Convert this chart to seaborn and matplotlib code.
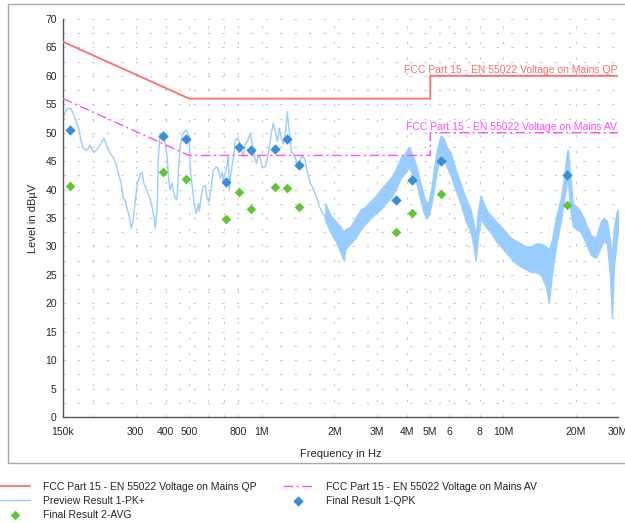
import matplotlib
matplotlib.use("Agg")
import matplotlib.pyplot as plt
import seaborn as sns
import pandas as pd
from matplotlib.patches import Rectangle

# ---------------- data (frequency in MHz, level in dBuV) ----------------
qp_freq = [0.15, 0.5, 5.0, 5.0, 30.0]
qp_level = [66, 56, 56, 60, 60]
av_freq = [0.15, 0.5, 5.0, 5.0, 30.0]
av_level = [56, 46, 46, 50, 50]

# Preview result, low-frequency (single line) part
pk_freq = [0.150, 0.154, 0.157, 0.162, 0.165, 0.170, 0.175, 0.178, 0.182, 0.187,
           0.191, 0.194, 0.198, 0.202, 0.206, 0.212, 0.217, 0.221, 0.224, 0.228,
           0.235, 0.242, 0.249, 0.254, 0.261, 0.266, 0.272, 0.277, 0.282, 0.288,
           0.293, 0.299, 0.305, 0.313, 0.319, 0.325, 0.332, 0.345, 0.351, 0.358,
           0.362, 0.369, 0.372, 0.379, 0.387, 0.398, 0.406, 0.410, 0.417, 0.425,
           0.434, 0.442, 0.446, 0.451, 0.459, 0.468, 0.477, 0.486, 0.496, 0.501,
           0.505, 0.515, 0.525, 0.535, 0.546, 0.551, 0.562, 0.572, 0.583, 0.594,
           0.606, 0.618, 0.630, 0.648, 0.661, 0.673, 0.686, 0.693, 0.706, 0.720,
           0.727, 0.734, 0.741, 0.755, 0.770, 0.777, 0.792, 0.807, 0.823, 0.839,
           0.855, 0.871, 0.897, 0.914, 0.932, 0.950, 0.968, 0.987, 1.006, 1.035,
           1.055, 1.075, 1.096, 1.117, 1.139, 1.161, 1.183, 1.206, 1.229, 1.253,
           1.278, 1.290, 1.315, 1.327, 1.352, 1.379, 1.406, 1.433, 1.475, 1.503,
           1.532, 1.561, 1.592, 1.623, 1.654, 1.703, 1.736, 1.787, 1.837]
pk_level = [52.8, 53.8, 54.3, 54.2, 53.5, 52.0, 50.5, 48.5, 47.3, 46.9,
            47.2, 47.8, 47.0, 46.6, 46.9, 47.6, 48.3, 49.0, 48.6, 47.6,
            46.4, 45.7, 44.5, 43.0, 41.2, 38.6, 38.0, 36.5, 35.5, 33.2,
            34.5, 38.0, 41.0, 42.6, 43.0, 41.0, 40.2, 38.3, 37.0, 35.0,
            33.2, 37.0, 45.0, 49.9, 49.4, 48.3, 45.5, 42.3, 40.0, 41.1,
            39.0, 38.2, 38.6, 43.0, 47.5, 49.5, 50.2, 50.5, 49.8, 48.0,
            44.0, 40.5, 37.5, 35.8, 37.5, 36.2, 39.0, 40.5, 40.8, 38.5,
            37.8, 40.5, 43.4, 44.0, 43.5, 42.0, 43.0, 41.5, 43.0, 44.5,
            45.8, 39.9, 42.0, 44.5, 47.0, 48.7, 49.0, 48.5, 47.0, 45.8,
            48.0, 48.5, 49.9, 48.0, 46.0, 44.6, 46.0, 45.5, 44.0, 44.0,
            45.5, 47.5, 49.9, 51.7, 50.0, 48.5, 50.8, 49.0, 48.0, 50.0,
            53.7, 51.5, 49.0, 46.5, 46.4, 45.5, 44.5, 45.0, 45.8, 45.5,
            44.0, 42.3, 41.0, 40.5, 39.5, 38.2, 37.0, 35.8, 35.2]

# Preview result, high-frequency (dense noisy band) part: upper / lower envelope
band_freq = [1.837, 1.927, 2.02, 2.12, 2.19, 2.22, 2.33, 2.45, 2.57, 2.69,
             2.83, 2.96, 3.11, 3.26, 3.42, 3.59, 3.76, 3.95, 4.07, 4.18,
             4.35, 4.56, 4.69, 4.83, 4.92, 5.06, 5.21, 5.36, 5.52, 5.68,
             5.85, 6.07, 6.37, 6.68, 7.01, 7.35, 7.56, 7.71, 7.87, 8.09,
             8.33, 8.65, 8.90, 9.34, 9.80, 10.28, 10.78, 11.31, 11.86, 12.44,
             13.05, 13.69, 14.36, 15.07, 15.5, 15.95, 16.58, 17.39, 17.9, 18.42,
             18.6, 18.95, 19.5, 20.27, 21.06, 22.09, 23.17, 24.31, 25.50, 26.2,
             26.99, 27.8, 28.3, 28.8, 29.6, 30.0]
band_hi = [37.5, 35.5, 34.5, 33.5, 32.5, 33.0, 33.5, 35.0, 36.5, 37.0,
           38.0, 38.8, 40.0, 41.0, 42.0, 43.5, 45.5, 46.5, 47.5, 46.5,
           44.5, 41.0, 39.0, 37.5, 38.0, 40.5, 44.5, 47.5, 49.5, 49.0,
           47.5, 46.5, 43.5, 41.0, 38.5, 36.5, 34.0, 32.0, 36.0, 39.0,
           37.5, 36.0, 35.5, 34.5, 33.5, 32.5, 31.5, 31.0, 30.5, 30.0,
           30.0, 30.5, 30.5, 30.0, 29.5, 31.0, 35.0, 38.5, 42.0, 46.5,
           47.0, 43.0, 37.5, 37.0, 36.0, 34.0, 32.0, 31.5, 34.5, 35.0,
           34.5, 31.0, 28.0, 33.0, 36.0, 36.5]
band_lo = [34.5, 32.5, 31.0, 29.0, 27.5, 29.5, 30.5, 31.5, 33.0, 34.0,
           35.0, 35.8, 36.5, 37.5, 38.5, 40.0, 42.0, 43.0, 44.0, 43.0,
           41.5, 38.0, 36.0, 35.0, 35.5, 37.5, 41.0, 44.0, 45.5, 45.5,
           44.0, 42.5, 40.0, 37.5, 34.5, 32.5, 30.0, 27.5, 31.5, 35.0,
           34.0, 33.0, 32.5, 31.0, 30.0, 29.0, 28.0, 27.0, 26.5, 26.0,
           25.5, 25.5, 25.0, 23.0, 20.0, 25.0, 30.0, 34.5, 38.0, 41.5,
           42.0, 37.0, 33.5, 33.0, 32.5, 30.5, 28.5, 28.0, 30.0, 31.0,
           30.5, 25.0, 17.5, 26.0, 31.0, 32.5]

# Final results
final_freq = [0.160, 0.391, 0.485, 0.711, 0.807, 0.899, 1.139, 1.278, 1.433,
              3.60, 4.18, 5.55, 18.5]
qpk_level = [50.4, 49.5, 48.9, 41.3, 47.5, 46.9, 47.1, 48.9, 44.3,
             38.1, 41.7, 45.0, 42.6]
avg_level = [40.7, 43.1, 41.9, 34.8, 39.6, 36.6, 40.4, 40.3, 36.9,
             32.5, 35.8, 39.2, 37.2]

x_ticks = [0.15, 0.2, 0.3, 0.4, 0.5, 0.6, 0.7, 0.8, 1, 2, 3, 4, 5, 6, 7, 8, 10, 20, 30]
x_tick_labels = ["150k", "", "300", "400", "500", "", "", "800", "1M", "2M", "3M",
                 "4M", "5M", "6", "", "8", "10M", "20M", "30M"]

qp_label = "FCC Part 15 - EN 55022 Voltage on Mains QP"
av_label = "FCC Part 15 - EN 55022 Voltage on Mains AV"
pk_label = "Preview Result 1-PK+"
qpk_label = "Final Result 1-QPK"
avg_label = "Final Result 2-AVG"

# ---------------- styling ----------------
sns.set_style("white")
plt.rcParams["font.family"] = ["Liberation Sans", "DejaVu Sans"]
plt.rcParams["font.size"] = 7.5

C_QP = "#ff6b6b"
C_AV = "#ff4dff"
C_PK = "#99ccff"
C_QPK = "#3a8ed6"
C_AVG = "#5cc832"

fig = plt.figure(figsize=(6.25, 5.23), dpi=100)
ax = fig.add_axes([63 / 625, 1 - 417 / 523, (618 - 63) / 625, (417 - 19) / 523])

# outer frame
fig.patches.append(Rectangle((8 / 625, 1 - 463 / 523), 1.2, 459 / 523,
                             transform=fig.transFigure, fill=False,
                             edgecolor="#a8a8a8", linewidth=1.0, zorder=0))

# preview trace
pk_df = pd.DataFrame({"f": pk_freq, "L": pk_level})
sns.lineplot(data=pk_df, x="f", y="L", ax=ax, color=C_PK, lw=1.0,
             sort=False, estimator=None, label=pk_label, zorder=2)
ax.fill_between(band_freq, band_lo, band_hi, color=C_PK, lw=1.0,
                edgecolor=C_PK, zorder=2)

# limits
qp_df = pd.DataFrame({"f": qp_freq, "L": qp_level})
av_df = pd.DataFrame({"f": av_freq, "L": av_level})
sns.lineplot(data=qp_df, x="f", y="L", ax=ax, color=C_QP, lw=1.3,
             sort=False, estimator=None, label=qp_label, zorder=3)
sns.lineplot(data=av_df, x="f", y="L", ax=ax, color=C_AV, lw=1.0,
             sort=False, estimator=None, label=av_label, zorder=3,
             linestyle=(0, (7, 2.5, 1.5, 2.5)))

# final results
fin_df = pd.DataFrame({"f": final_freq, "qpk": qpk_level, "avg": avg_level})
sns.scatterplot(data=fin_df, x="f", y="qpk", ax=ax, color=C_QPK, marker="D",
                s=28, linewidth=0, label=qpk_label, zorder=4)
sns.scatterplot(data=fin_df, x="f", y="avg", ax=ax, color=C_AVG, marker="D",
                s=24, linewidth=0, label=avg_label, zorder=4)

# limit labels
ax.text(x_ticks[-1] * 0.992, qp_level[-1] + 0.1, qp_label, color=C_QP,
        ha="right", va="bottom", fontsize=7.5)
ax.text(x_ticks[-1] * 0.992, av_level[-1] + 0.1, av_label, color=C_AV,
        ha="right", va="bottom", fontsize=7.5)

# axes
ax.set_xscale("log")
ax.set_xlim(0.15, 30)
ax.set_ylim(0, 70)
ax.set_xticks(x_ticks)
ax.set_xticklabels(x_tick_labels)
ax.minorticks_off()
ax.set_yticks(range(0, 71, 5))
ax.set_yticks([v + 2.5 for v in range(0, 70, 5)], minor=True)
ax.tick_params(axis="both", which="both", direction="inout", length=5,
               width=0.8, color="#333333", labelsize=7.5, pad=2)
ax.tick_params(axis="x", which="major", pad=5)
ax.tick_params(axis="y", which="minor", length=5)
ax.set_xlabel("Frequency in Hz", fontsize=8, labelpad=8)
ax.set_ylabel("Level in dBµV", fontsize=8, labelpad=5)

for s in ["top", "right"]:
    ax.spines[s].set_visible(False)
for s in ["left", "bottom"]:
    ax.spines[s].set_color("#555555")
    ax.spines[s].set_linewidth(1.0)

# dotted grid
for yv in [v * 2.5 for v in range(1, 29)]:
    ax.axhline(yv, color="#c8c8c8", lw=0.8, linestyle=(0, (2, 11)), zorder=0)
for xv in x_ticks[1:-1]:
    ax.axvline(xv, color="#c8c8c8", lw=0.8, linestyle=(0, (2, 12)), zorder=0)

# legend
h, l = ax.get_legend_handles_labels()
ax.get_legend().remove()
order = [qp_label, pk_label, avg_label, av_label, qpk_label]
hl = dict(zip(l, h))
fig.legend([hl[k] for k in order], order, ncol=2, loc="upper left",
           bbox_to_anchor=(0.0, 1 - 482 / 523), frameon=False, fontsize=7.5,
           handlelength=2.9, handletextpad=1.2, columnspacing=2.6,
           labelspacing=0.38, borderpad=0, borderaxespad=0)

fig.savefig("out.png", dpi=100)
